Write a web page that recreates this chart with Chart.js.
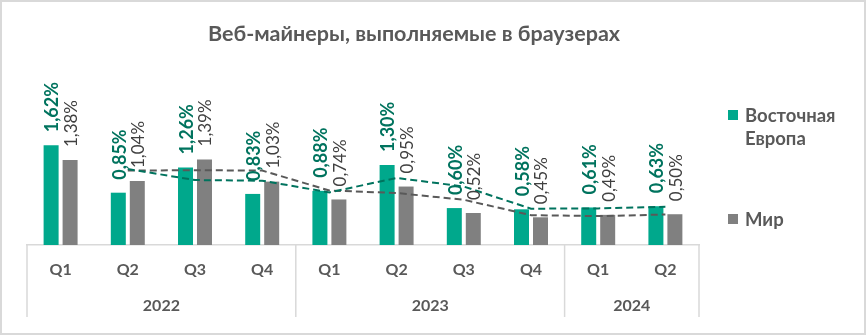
<!DOCTYPE html>
<html>
<head>
<meta charset="utf-8">
<script src="https://cdn.jsdelivr.net/npm/chart.js@4.4.1/dist/chart.umd.min.js"></script>
<style>
  html, body { margin: 0; padding: 0; background: #fff; }
  #wrap { position: relative; width: 866px; height: 336px; overflow: hidden; font-family: Lato, "Open Sans", sans-serif; }
  #frame { position: absolute; left: 0; top: 0; width: 866px; height: 335px; box-sizing: border-box; border: 2px solid #d9d9d9; pointer-events: none; }
  canvas { position: absolute; left: 0; top: 0; }
  #title { position: absolute; left: 0; width: 828px; top: 20px; text-align: center; font-weight: bold; font-size: 21.5px; color: #595959; white-space: nowrap; }
  .leg { position: absolute; font-weight: bold; font-size: 18.5px; color: #595959; line-height: 23px; }
  .sw { position: absolute; width: 10px; height: 10px; }
</style>
</head>
<body>
<div id="wrap">
  <canvas id="c" width="866" height="336"></canvas>
  <div id="title">Веб-майнеры, выполняемые в браузерах</div>
  <div class="sw" style="left:728px;top:110px;background:#00A88C"></div>
  <div class="leg" style="left:745px;top:104px">Восточная<br>Европа</div>
  <div class="sw" style="left:728px;top:214px;background:#808080"></div>
  <div class="leg" style="left:745px;top:208px">Мир</div>
  <div id="frame"></div>
</div>
<script>
const quarters = ['Q1','Q2','Q3','Q4','Q1','Q2','Q3','Q4','Q1','Q2'];
const years = ['2022','2023','2024'];
const yearSpans = [4, 4, 2];
const eastEurope = [1.62, 0.85, 1.26, 0.83, 0.88, 1.30, 0.60, 0.58, 0.61, 0.63];
const world = [1.38, 1.04, 1.39, 1.03, 0.74, 0.95, 0.52, 0.45, 0.49, 0.50];
const eastTrend = [null, 1.235, 1.055, 1.045, 0.855, 1.09, 0.95, 0.59, 0.595, 0.62];
const worldTrend = [null, 1.21, 1.215, 1.21, 0.885, 0.845, 0.735, 0.485, 0.47, 0.495];

const GREEN = '#00A88C', GREEN_DARK = '#00735E', GREY = '#808080', GREY_TEXT = '#404040', AXIS = '#d9d9d9', TEXT = '#595959';

function fmt(v) { return v.toFixed(2).replace('.', ',') + '%'; }

const labelPlugin = {
  id: 'barLabels',
  afterDatasetsDraw(chart) {
    const ctx = chart.ctx;
    const specs = [
      { idx: 0, font: 'bold 18px Lato', color: GREEN_DARK, dx: 1.5 },
      { idx: 1, font: '17px Lato', color: GREY_TEXT, dx: 1.5 }
    ];
    specs.forEach(s => {
      const meta = chart.getDatasetMeta(s.idx);
      const data = chart.data.datasets[s.idx].data;
      meta.data.forEach((bar, i) => {
        ctx.save();
        ctx.translate(bar.x + s.dx, bar.y - 13);
        ctx.rotate(-Math.PI / 2);
        ctx.font = s.font;
        ctx.fillStyle = s.color;
        ctx.textAlign = 'left';
        ctx.textBaseline = 'middle';
        ctx.fillText(fmt(data[i]), 0, 0);
        ctx.restore();
      });
    });
  }
};

const groupPlugin = {
  id: 'yearGroups',
  afterDraw(chart) {
    const ctx = chart.ctx, xs = chart.scales.x, area = chart.chartArea;
    const bottom = 317;
    const bounds = [area.left];
    let start = 0;
    const centers = [];
    yearSpans.forEach((n, k) => {
      const end = start + n;
      const right = end < quarters.length ? (xs.getPixelForValue(end - 1) + xs.getPixelForValue(end)) / 2 : area.right;
      centers.push((bounds[bounds.length - 1] + right) / 2);
      bounds.push(right);
      start = end;
    });
    ctx.save();
    ctx.strokeStyle = AXIS;
    ctx.lineWidth = 1.5;
    bounds.forEach(x => {
      ctx.beginPath();
      ctx.moveTo(x, area.bottom);
      ctx.lineTo(x, bottom);
      ctx.stroke();
    });
    ctx.font = 'bold 16px Lato';
    ctx.fillStyle = TEXT;
    ctx.textAlign = 'center';
    ctx.textBaseline = 'middle';
    years.forEach((y, k) => ctx.fillText(y, centers[k], 306));
    ctx.restore();
  }
};

function draw() {
  new Chart(document.getElementById('c'), {
    data: {
      labels: quarters,
      datasets: [
        { type: 'bar', label: 'Восточная Европа', data: eastEurope, backgroundColor: GREEN, order: 2, categoryPercentage: 0.565, barPercentage: 0.79 },
        { type: 'bar', label: 'Мир', data: world, backgroundColor: GREY, order: 2, categoryPercentage: 0.565, barPercentage: 0.79 },
        { type: 'line', label: 'trendEast', data: eastTrend, borderColor: GREEN_DARK, borderWidth: 2, borderDash: [7, 4], pointRadius: 0, tension: 0, fill: false, order: 0 },
        { type: 'line', label: 'trendWorld', data: worldTrend, borderColor: '#595959', borderWidth: 2, borderDash: [7, 4], pointRadius: 0, tension: 0, fill: false, order: 1 }
      ]
    },
    options: {
      responsive: false,
      animation: false,
      layout: { padding: { left: 27, right: 167, top: 85, bottom: 0 } },
      plugins: { legend: { display: false }, title: { display: false }, tooltip: { enabled: false } },
      scales: {
        y: { display: false, min: 0, max: 2.6 },
        x: {
          offset: true,
          grid: { display: false, drawTicks: false },
          border: { display: true, color: AXIS, width: 1.5 },
          ticks: { color: TEXT, font: { family: 'Lato', size: 16, weight: 'bold' }, padding: 15, maxRotation: 0, autoSkip: false },
          afterFit: s => { s.height = 91; }
        }
      }
    },
    plugins: [labelPlugin, groupPlugin]
  });
}

Promise.all([
  document.fonts.load('bold 16px Lato'),
  document.fonts.load('17px Lato')
]).then(draw, draw);
</script>
</body>
</html>
